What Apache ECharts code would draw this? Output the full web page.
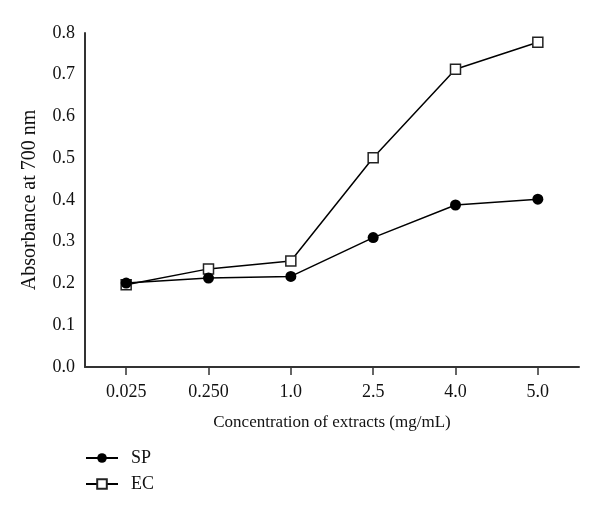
<!DOCTYPE html>
<html>
<head>
<meta charset="utf-8">
<script src="https://cdn.jsdelivr.net/npm/echarts@6/dist/echarts.min.js"></script>
<style>html,body{margin:0;padding:0;background:#fff}#c{width:600px;height:516px}</style>
</head>
<body>
<div id="c"></div>
<script>
const categories = ['0.025', '0.250', '1.0', '2.5', '4.0', '5.0'];
const spValues = [0.201, 0.213, 0.217, 0.310, 0.388, 0.402];
const ecValues = [0.197, 0.235, 0.254, 0.501, 0.713, 0.778];
const yTicks = { min: 0, max: 0.8, interval: 0.1 };
const font = '"Liberation Serif", "DejaVu Serif", serif';

const chart = echarts.init(document.getElementById('c'), null, { renderer: 'canvas' });
chart.setOption({
  animation: false,
  backgroundColor: '#fff',
  textStyle: { fontFamily: font, color: '#111' },
  grid: { left: 85, right: 21, top: 33, bottom: 149, containLabel: false },
  legend: {
    orient: 'vertical',
    left: 80,
    top: 444,
    itemGap: 8,
    itemWidth: 32,
    itemHeight: 12,
    textStyle: { fontFamily: font, fontSize: 18, color: '#111', padding: [0, 0, 0, 8] },
    data: ['SP', 'EC']
  },
  xAxis: {
    type: 'category',
    data: categories,
    boundaryGap: true,
    name: 'Concentration of extracts (mg/mL)',
    nameLocation: 'middle',
    nameGap: 47,
    nameTextStyle: { fontFamily: font, fontSize: 17, color: '#111' },
    axisLine: { lineStyle: { color: '#333', width: 2 } },
    axisTick: { show: true, alignWithLabel: true, length: 8, lineStyle: { color: '#333', width: 1.5 } },
    axisLabel: { fontFamily: font, fontSize: 18, color: '#111', margin: 16 },
    splitLine: { show: false }
  },
  yAxis: {
    type: 'value',
    min: yTicks.min,
    max: yTicks.max,
    interval: yTicks.interval,
    name: 'Absorbance at 700 nm',
    nameLocation: 'middle',
    nameGap: 45,
    nameTextStyle: { fontFamily: font, fontSize: 20, color: '#111' },
    axisLine: { show: true, lineStyle: { color: '#333', width: 2 } },
    axisTick: { show: false },
    axisLabel: { fontFamily: font, fontSize: 18, color: '#111', margin: 10,
      formatter: v => v.toFixed(1) },
    splitLine: { show: false }
  },
  series: [
    {
      name: 'SP',
      type: 'line',
      data: spValues,
      symbol: 'circle',
      symbolSize: 11,
      lineStyle: { color: '#000', width: 1.5 },
      itemStyle: { color: '#000' },
      z: 3
    },
    {
      name: 'EC',
      type: 'line',
      data: ecValues,
      symbol: 'rect',
      symbolSize: 10,
      lineStyle: { color: '#000', width: 1.5 },
      itemStyle: { color: '#fff', borderColor: '#222', borderWidth: 1.5 },
      z: 2
    }
  ]
});
</script>
</body>
</html>
